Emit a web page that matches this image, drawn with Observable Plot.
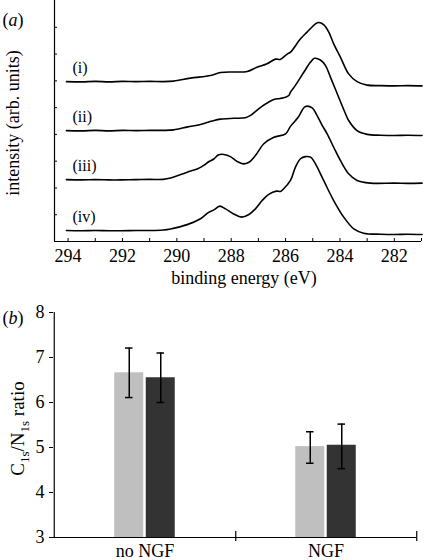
<!DOCTYPE html>
<html><head><meta charset="utf-8">
<script src="https://cdn.jsdelivr.net/npm/d3@7"></script>
<script src="https://cdn.jsdelivr.net/npm/@observablehq/plot@0.6"></script>
<style>
body{margin:0;background:#fff;}
#chart{width:434px;height:560px;background:#fff;}
#chart svg{display:block;font-family:'Liberation Serif','Times New Roman',serif !important;}
#chart svg text, #chart svg g{font-family:'Liberation Serif','Times New Roman',serif !important;}
</style>
</head><body><div id="chart"></div>
<script>
// ---------- Panel (a) data: XPS C1s spectra, [binding energy (eV), intensity (stacked, arb.)]
const spectrumLabels = ["(i)", "(ii)", "(iii)", "(iv)"];
const spectrumI = [[294.06,5.97],[293.5,5.96],[293.0,5.98],[292.5,5.96],[292.0,5.98],[291.5,5.97],[291.0,5.98],[290.5,5.97],[290.12,5.99],[289.5,6.10],[288.76,6.20],[288.39,6.31],[287.9,6.33],[287.41,6.35],[287.05,6.51],[286.68,6.64],[286.37,6.81],[286.2,6.80],[285.94,7.0],[285.82,7.07],[285.45,7.57],[285.21,7.82],[284.90,8.13],[284.78,8.18],[284.60,8.10],[284.41,7.82],[284.23,7.38],[283.98,6.88],[283.68,6.26],[283.37,5.97],[283.0,5.84],[282.5,5.82],[282.0,5.81],[281.5,5.82],[280.98,5.81]];
const spectrumII = [[294.06,4.14],[293.5,4.13],[293.0,4.15],[292.5,4.13],[292.0,4.15],[291.5,4.14],[291.0,4.15],[290.5,4.15],[290.12,4.17],[289.6,4.28],[289.13,4.37],[288.7,4.50],[288.39,4.57],[287.9,4.60],[287.48,4.62],[287.29,4.71],[286.92,5.01],[286.43,5.30],[286.2,5.34],[286.0,5.39],[285.88,5.45],[285.82,5.58],[285.64,5.83],[285.33,6.32],[285.08,6.70],[284.94,6.84],[284.72,6.78],[284.53,6.57],[284.35,6.14],[284.10,5.52],[283.80,4.78],[283.68,4.52],[283.37,4.14],[283.0,4.0],[282.5,3.97],[282.0,3.96],[281.5,3.97],[280.98,3.96]];
const spectrumIII = [[294.06,2.31],[293.5,2.30],[293.0,2.31],[292.5,2.30],[292.07,2.30],[291.5,2.31],[291.0,2.32],[290.5,2.32],[290.23,2.37],[289.62,2.59],[289.25,2.71],[289.01,2.84],[288.83,2.98],[288.64,3.08],[288.46,3.24],[288.27,3.25],[288.03,3.17],[287.78,2.99],[287.56,2.90],[287.35,2.96],[287.11,3.21],[286.80,3.65],[286.43,3.89],[286.0,4.02],[285.82,4.30],[285.55,4.62],[285.27,5.04],[285.02,4.99],[284.84,4.70],[284.65,4.33],[284.47,4.02],[284.23,3.52],[283.98,3.02],[283.68,2.53],[283.37,2.28],[282.88,2.18],[282.0,2.18],[281.5,2.17],[280.98,2.18]];
const spectrumIV = [[294.06,0.41],[293.5,0.40],[293.0,0.41],[292.5,0.40],[292.07,0.40],[291.5,0.41],[291.0,0.41],[290.5,0.43],[290.23,0.47],[289.62,0.63],[289.13,0.85],[288.83,1.09],[288.64,1.18],[288.42,1.32],[288.21,1.22],[287.91,1.03],[287.62,0.91],[287.35,1.01],[287.11,1.22],[286.86,1.53],[286.62,1.76],[286.34,1.88],[286.19,1.87],[286.07,1.97],[285.82,2.28],[285.64,2.77],[285.45,3.09],[285.27,3.17],[285.08,3.15],[284.90,2.90],[284.60,2.28],[284.23,1.53],[283.86,0.91],[283.49,0.47],[283.13,0.31],[282.5,0.27],[282.0,0.26],[281.5,0.27],[280.98,0.26]];
const energyDomain = [281, 294.5];
const intensityDomain = [0, 9];
const energyTicks = [294, 292, 290, 288, 286, 284, 282];
const energyMinorTicks = [294, 293, 292, 291, 290, 289, 288, 287, 286, 285, 284, 283, 282, 281];
const intensityTicks = [1, 2, 3, 4, 5, 6, 7, 8];

// ---------- Panel (b) data: C1s/N1s ratio
const groups = ["no NGF", "NGF"];
const lightValues = [6.66, 5.02];
const lightLow = [6.11, 4.65];
const lightHigh = [7.21, 5.35];
const darkValues = [6.55, 5.05];
const darkLow = [6.00, 4.53];
const darkHigh = [7.10, 5.52];
const ratioTicks = [3, 4, 5, 6, 7, 8];

// ---------- Shared styling
const W = 434;
const fontFamily = "'Liberation Serif','Times New Roman',serif";
const baseStyle = {fontFamily, fontSize: "18px", background: "white", color: "black", overflow: "visible"};

// ---------- Panel (a)
const spectra = [spectrumI, spectrumII, spectrumIII, spectrumIV];
const lineData = spectra.flatMap((s, k) => s.map(([e, v]) => ({energy: e, intensity: v, label: spectrumLabels[k]})));
const firstPoints = spectra.map((s, k) => ({energy: s[0][0], intensity: s[0][1], label: spectrumLabels[k]}));

const plotA = Plot.plot({
  width: W, height: 292,
  marginLeft: 54, marginRight: 13, marginTop: 0, marginBottom: 51,
  style: baseStyle,
  x: {domain: energyDomain, reverse: true},
  y: {domain: intensityDomain, axis: null},
  marks: [
    Plot.ruleX([energyDomain[1]], {stroke: "black", strokeWidth: 1.2}),
    Plot.ruleY([intensityDomain[0]], {stroke: "black", strokeWidth: 1.2}),
    Plot.ruleX(energyMinorTicks, {x: d => d, y1: intensityDomain[0], y2: intensityDomain[0], insetTop: -3, stroke: "black"}),
    Plot.ruleY(intensityTicks, {y: d => d, x1: energyDomain[1], x2: energyDomain[1], insetRight: -3, stroke: "black"}),
    Plot.axisX({ticks: energyTicks, tickFormat: d => String(d), tickSize: 0, tickPadding: 8, label: null, fontSize: 18}),
    Plot.line(lineData, {x: "energy", y: "intensity", z: "label", stroke: "black", strokeWidth: 1.6, curve: "catmull-rom"}),
    Plot.text(firstPoints, {x: "energy", y: "intensity", text: "label", dx: 6, dy: -14, textAnchor: "start", fontSize: 16}),
    Plot.text(["binding energy (eV)"], {text: d => d, frameAnchor: "bottom", textAnchor: "middle", dx: 6, dy: 42, lineAnchor: "bottom", fontSize: 18}),
    Plot.text(["intensity (arb. units)"], {text: d => d, frameAnchor: "left", textAnchor: "middle", rotate: -90, dx: -41, dy: 2, fontSize: 18}),
    Plot.text(["(a)"], {text: d => d, frameAnchor: "top-left", dx: -52, dy: 13, textAnchor: "start", fontSize: 18})
  ]
});

// ---------- Panel (b)
const mLb = 53, mRb = 18;
const bw = (W - mLb - mRb) / groups.length;
const barW = 29.5, halfGap = 1, capHalf = 4;
const off = halfGap + barW / 2;
const seriesSpecs = [
  {name: "light", fill: "#bfbfbf", values: lightValues, low: lightLow, high: lightHigh, sign: -1},
  {name: "dark", fill: "#333333", values: darkValues, low: darkLow, high: darkHigh, sign: 1}
];
const rows = seriesSpecs.flatMap(s => groups.map((g, i) => ({group: g, series: s.name, value: s.values[i], lo: s.low[i], hi: s.high[i]})));
const y0 = ratioTicks[0];

const seriesMarks = seriesSpecs.flatMap(s => {
  const data = rows.filter(r => r.series === s.name);
  const barInsetL = s.sign < 0 ? bw / 2 - halfGap - barW : bw / 2 + halfGap;
  const barInsetR = s.sign < 0 ? bw / 2 + halfGap : bw / 2 - halfGap - barW;
  const capInsetL = bw / 2 + s.sign * off - capHalf;
  const capInsetR = bw / 2 - s.sign * off - capHalf;
  return [
    Plot.barY(data, {x: "group", y1: y0, y2: "value", fill: s.fill, insetLeft: barInsetL, insetRight: barInsetR}),
    Plot.ruleX(data, {x: "group", y1: "lo", y2: "hi", dx: s.sign * off, stroke: "black", strokeWidth: 1.5}),
    Plot.tickY(data, {x: "group", y: "hi", insetLeft: capInsetL, insetRight: capInsetR, stroke: "black", strokeWidth: 1.5}),
    Plot.tickY(data, {x: "group", y: "lo", insetLeft: capInsetL, insetRight: capInsetR, stroke: "black", strokeWidth: 1.5})
  ];
});

const plotB = Plot.plot({
  width: W, height: 268,
  marginLeft: mLb, marginRight: mRb, marginTop: 20, marginBottom: 23,
  style: baseStyle,
  x: {domain: groups, padding: 0},
  y: {domain: [ratioTicks[0], ratioTicks[ratioTicks.length - 1]]},
  marks: [
    ...seriesMarks,
    Plot.ruleY([y0], {stroke: "black", strokeWidth: 1.2}),
    Plot.ruleX([groups[0]], {x: d => d, dx: -bw / 2, y1: ratioTicks[0], y2: ratioTicks[ratioTicks.length - 1], stroke: "black", strokeWidth: 1.2}),
    Plot.ruleX(groups, {x: d => d, dx: bw / 2, y1: y0, y2: y0, insetTop: -6, insetBottom: -4, stroke: "black", strokeWidth: 1.2}),
    Plot.axisY({ticks: ratioTicks, tickFormat: d => String(d), tickSize: 4, tickPadding: 5, label: null, fontSize: 18}),
    Plot.axisX({tickSize: 0, tickPadding: 7, label: null, fontSize: 18}),
    Plot.text(["C1s/N1s ratio"], {text: d => d, frameAnchor: "left", textAnchor: "middle", rotate: -90, dx: -36, dy: 3.5, fontSize: 19}),
    Plot.text(["(b)"], {text: d => d, frameAnchor: "top-left", dx: -51, dy: -1, textAnchor: "start", fontSize: 18})
  ]
});

const chart = document.getElementById("chart");
chart.append(plotA, plotB);

// rich-text touches: italic panel letters and subscripts
function restyle(svg, content, html) {
  svg.querySelectorAll("text").forEach(t => { if (t.textContent === content) t.innerHTML = html; });
}
restyle(plotA, "(a)", '(<tspan font-style="italic">a</tspan>)');
restyle(plotB, "(b)", '(<tspan font-style="italic">b</tspan>)');
restyle(plotB, "C1s/N1s ratio",
  'C<tspan dy="5" font-size="13">1s</tspan><tspan dy="-5">/N</tspan><tspan dy="5" font-size="13">1s</tspan><tspan dy="-5"> ratio</tspan>');
</script></body></html>
